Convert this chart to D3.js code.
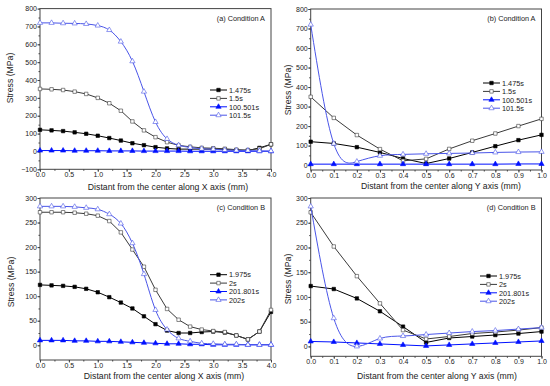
<!DOCTYPE html>
<html>
<head>
<meta charset="utf-8">
<script src="https://cdn.jsdelivr.net/npm/d3@7"></script>
<style>
  body { margin: 0; background: #fff; }
  svg { display: block; font-family: "Liberation Sans", Arial, sans-serif; }
</style>
</head>
<body>
<svg width="550" height="386"></svg>
<script>
// x positions
var xMm = [0, 0.2, 0.4, 0.6, 0.8, 1.0, 1.2, 1.4, 1.6, 1.8, 2.0, 2.2, 2.4, 2.6, 2.8, 3.0, 3.2, 3.4, 3.6, 3.8, 4.0];
var yMm = [0, 0.1, 0.2, 0.3, 0.4, 0.5, 0.6, 0.7, 0.8, 0.9, 1.0];

// (a) condition A, along X
var a_names = ["1.475s", "1.5s", "100.501s", "101.5s"];
var a_s1 = [121, 118, 114, 107, 99, 88, 75, 61, 46, 35, 24, 17, 13, 13, 13, 13, 11, 7, 5, 20, 40];
var a_s2 = [350, 348, 344, 335, 322, 300, 270, 228, 168, 118, 80, 52, 34, 26, 20, 18, 15, 10, 8, 15, 40];
var a_s3 = [5, 5, 5, 4, 4, 4, 3, 3, 3, 2, 2, 2, 2, 1, 1, 1, 1, 1, 1, 1, 1];
var a_s4 = [720, 720, 718, 717, 714, 705, 680, 615, 505, 335, 165, 70, 35, 22, 15, 12, 8, 6, 5, 3, 2];

// (b) condition A, along Y
var b_names = ["1.475s", "1.5s", "100.501s", "101.5s"];
var b_s1 = [120, 111, 92, 65, 34, 8, 34, 65, 97, 128, 155];
var b_s2 = [350, 242, 154, 82, 22, 32, 83, 125, 162, 200, 237];
var b_s3 = [5, 5, 5, 5, 5, 5, 5, 5, 5, 6, 6];
var b_s4 = [720, 110, 18, 48, 55, 58, 60, 62, 65, 67, 68];

// (c) condition B, along X
var c_names = ["1.975s", "2s", "201.801s", "202s"];
var c_s1 = [123, 122, 121, 119, 115, 108, 98, 87, 75, 59, 43, 30, 25, 25, 27, 28, 26, 20, 12, 28, 68];
var c_s2 = [271, 271, 271, 270, 268, 264, 253, 230, 195, 160, 113, 74, 52, 38, 32, 29, 27, 20, 12, 28, 72];
var c_s3 = [10, 10, 10, 9, 9, 8, 8, 7, 6, 5, 4, 3, 3, 2, 2, 1, 1, 1, 1, 1, 1];
var c_s4 = [283, 283, 283, 282, 280, 277, 267, 248, 208, 145, 72, 32, 14, 8, 4, 3, 2, 2, 1, 1, 1];

// (d) condition B, along Y
var d_names = ["1.975s", "2s", "201.801s", "202s"];
var d_s1 = [122, 116, 97, 71, 40, 8, 17, 20, 23, 26, 30];
var d_s2 = [271, 202, 142, 87, 33, 15, 20, 26, 29, 33, 38];
var d_s3 = [10, 9, 7, 5, 3, 1, 3, 5, 7, 9, 11];
var d_s4 = [283, 57, 0, 16, 21, 24, 27, 30, 32, 35, 38];

var svg = d3.select("svg");

// series look: color, marker, filled?, curve
var looks = [
  { color: "#000", shape: d3.symbolSquare, fill: "#000", curve: d3.curveLinear },
  { color: "#3a3a3a", shape: d3.symbolSquare, fill: "#fff", curve: d3.curveLinear },
  { color: "#0010ff", shape: d3.symbolTriangle, fill: "#0010ff", curve: d3.curveLinear },
  { color: "#4a55e8", shape: d3.symbolTriangle, fill: "#fff", curve: d3.curveNatural }
];

var panels = [
  { x: xMm, series: [a_s1, a_s2, a_s3, a_s4], names: a_names, label: "(a) Condition A",
    xDom: [0, 4], xTicks: d3.range(0, 4.01, 0.5), yDom: [-100, 800], yTicks: d3.range(-100, 801, 100),
    box: [40, 271, 8.6, 169.3], leg: [210, 90], xTitle: "Distant from the center along X axis (mm)",
    xTitlePos: [168, 190], yTitlePos: [13, 78] },
  { x: yMm, series: [b_s1, b_s2, b_s3, b_s4], names: b_names, label: "(b) Condition A",
    xDom: [0, 1], xTicks: d3.range(0, 1.001, 0.1), yDom: [-25, 800], yTicks: d3.range(0, 801, 100),
    box: [310.7, 541.5, 9, 170], leg: [483, 83], xTitle: "Distant from the center along Y axis (mm)",
    xTitlePos: [441, 189], yTitlePos: [291, 90] },
  { x: xMm, series: [c_s1, c_s2, c_s3, c_s4], names: c_names, label: "(c) Condition B",
    xDom: [0, 4], xTicks: d3.range(0, 4.01, 0.5), yDom: [-30, 300], yTicks: d3.range(0, 301, 50),
    box: [40, 271, 198, 360], leg: [210, 274.7], xTitle: "Distant from the center along X axis (mm)",
    xTitlePos: [164, 379], yTitlePos: [14, 282] },
  { x: yMm, series: [d_s1, d_s2, d_s3, d_s4], names: d_names, label: "(d) Condition B",
    xDom: [0, 1], xTicks: d3.range(0, 1.001, 0.1), yDom: [-20, 300], yTicks: d3.range(0, 301, 50),
    box: [310.7, 541.5, 198, 356.3], leg: [480, 276], xTitle: "Distant from the center along Y axis (mm)",
    xTitlePos: [437, 379], yTitlePos: [291, 279] }
];

function styleAxis(s) {
  s.select(".domain").remove();
  s.selectAll("line").attr("stroke", "#444");
  s.selectAll("text").attr("font-size", 7).attr("fill", "#222")
    .attr("font-family", "Liberation Sans, Arial, sans-serif");
}

panels.forEach(function(p) {
  var L = p.box[0], R = p.box[1], T = p.box[2], B = p.box[3];
  var x = d3.scaleLinear().domain(p.xDom).range([L, R]);
  var y = d3.scaleLinear().domain(p.yDom).range([B, T]);
  var g = svg.append("g");

  // frame
  g.append("rect").attr("x", L).attr("y", T).attr("width", R - L).attr("height", B - T)
    .attr("fill", "none").attr("stroke", "#444").attr("stroke-width", 1);

  // axes, minor then major
  var xStep = p.xTicks[1] - p.xTicks[0];
  var xMinor = d3.range(p.xDom[0], p.xDom[1] + 1e-9, xStep / 2);
  g.append("g").attr("transform", "translate(0," + B + ")")
    .call(d3.axisBottom(x).tickValues(xMinor).tickSize(1.5).tickFormat(""))
    .call(styleAxis);
  g.append("g").attr("transform", "translate(0," + B + ")")
    .call(d3.axisBottom(x).tickValues(p.xTicks).tickSize(2.5).tickPadding(0.5).tickFormat(d3.format(".1f")))
    .call(styleAxis);

  var yStep = p.yTicks[1] - p.yTicks[0];
  var yMinor = d3.range(p.yTicks[0], p.yDom[1] + 1e-9, yStep / 2);
  g.append("g").attr("transform", "translate(" + L + ",0)")
    .call(d3.axisLeft(y).tickValues(yMinor).tickSize(1.5).tickFormat(""))
    .call(styleAxis);
  g.append("g").attr("transform", "translate(" + L + ",0)")
    .call(d3.axisLeft(y).tickValues(p.yTicks).tickSize(2.5).tickPadding(0.5))
    .call(styleAxis);

  // titles
  g.append("text").attr("x", p.xTitlePos[0]).attr("y", p.xTitlePos[1])
    .attr("text-anchor", "middle").attr("font-size", 8.7).attr("fill", "#222").text(p.xTitle);
  g.append("text").attr("transform", "translate(" + p.yTitlePos[0] + "," + p.yTitlePos[1] + ") rotate(-90)")
    .attr("text-anchor", "middle").attr("font-size", 8.7).attr("fill", "#222").text("Stress (MPa)");
  g.append("text").attr("x", R - 6).attr("y", T + 12)
    .attr("text-anchor", "end").attr("font-size", 7.3).attr("fill", "#222").text(p.label);

  // series
  var clip = "clip" + Math.round(L) + Math.round(T);
  g.append("clipPath").attr("id", clip).append("rect")
    .attr("x", L).attr("y", T).attr("width", R - L).attr("height", B - T);

  p.series.forEach(function(vals, i) {
    var lk = looks[i];
    var pts = vals.map(function(v, j) { return [p.x[j], v]; });
    var line = d3.line().x(function(d) { return x(d[0]); }).y(function(d) { return y(d[1]); }).curve(lk.curve);
    g.append("path").datum(pts).attr("d", line).attr("fill", "none")
      .attr("stroke", lk.color).attr("stroke-width", 1).attr("clip-path", "url(#" + clip + ")");
    g.append("g").selectAll("path").data(pts).enter().append("path")
      .attr("transform", function(d) { return "translate(" + x(d[0]) + "," + y(d[1]) + ")"; })
      .attr("d", d3.symbol().type(lk.shape).size(12))
      .attr("fill", lk.fill).attr("stroke", lk.color).attr("stroke-width", 0.6);
  });

  // legend
  p.names.forEach(function(n, i) {
    var lk = looks[i];
    var ly = p.leg[1] + i * 8.4;
    g.append("line").attr("x1", p.leg[0]).attr("x2", p.leg[0] + 17).attr("y1", ly).attr("y2", ly)
      .attr("stroke", lk.color).attr("stroke-width", 1);
    g.append("path").attr("transform", "translate(" + (p.leg[0] + 8.5) + "," + ly + ")")
      .attr("d", d3.symbol().type(lk.shape).size(12))
      .attr("fill", lk.fill).attr("stroke", lk.color).attr("stroke-width", 0.6);
    g.append("text").attr("x", p.leg[0] + 19).attr("y", ly + 2.7)
      .attr("font-size", 7.3).attr("fill", "#222").text(n);
  });
});
</script>
</body>
</html>
